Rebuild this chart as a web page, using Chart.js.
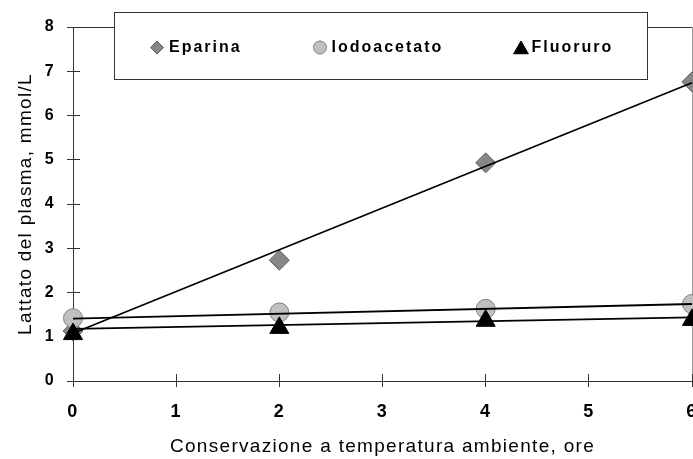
<!DOCTYPE html>
<html>
<head>
<meta charset="utf-8">
<script src="https://cdn.jsdelivr.net/npm/chart.js"></script>
<style>
    html, body { margin: 0; padding: 0; background: #fff; }
</style>
</head>
<body>
<canvas class="lattato-chart" width="693" height="459"></canvas>
<script>
const ore = [0, 2, 4, 6];
const eparina = [1.13, 2.73, 4.93, 6.76];
const iodoacetato = [1.42, 1.55, 1.63, 1.74];
const fluoruro = [1.06, 1.20, 1.36, 1.38];

// rette di tendenza (estremi a 0 e 6 ore)
const oreTrend = [0, 6];
const trendEparina = [1.08, 6.74];
const trendIodoacetato = [1.41, 1.74];
const trendFluoruro = [1.18, 1.44];

const xTicks = [0, 1, 2, 3, 4, 5, 6];
const yTicks = [0, 1, 2, 3, 4, 5, 6, 7, 8];
const serie = ['Eparina', 'Iodoacetato', 'Fluoruro'];
const titoloX = 'Conservazione a temperatura ambiente, ore';
const titoloY = 'Lattato del plasma, mmol/L';

function punti(xs, ys) {
    return xs.map((x, i) => ({ x: x, y: ys[i] }));
}

function allinea(p) {
    return Math.round(p - 0.5) + 0.5;
}

function disegnaMarker(ctx, stile, r, x, y) {
    if (Chart.helpers && Chart.helpers.drawPoint) {
        Chart.helpers.drawPoint(ctx, { pointStyle: stile, radius: r, borderWidth: 1, rotation: 0 }, x, y);
        return;
    }
    ctx.beginPath();
    if (stile === 'circle') {
        ctx.arc(x, y, r, 0, Math.PI * 2);
    } else if (stile === 'rectRot') {
        ctx.moveTo(x - r, y); ctx.lineTo(x, y - r); ctx.lineTo(x + r, y); ctx.lineTo(x, y + r);
    } else {
        ctx.moveTo(x, y - r); ctx.lineTo(x + r * 0.866, y + r / 2); ctx.lineTo(x - r * 0.866, y + r / 2);
    }
    ctx.closePath();
    ctx.fill();
    ctx.stroke();
}

const spaziatura = {
    id: 'spaziatura',
    beforeDraw(chart) {
        chart.ctx.letterSpacing = '1.3px';
    }
};

// bordo superiore/destro e parte interna delle tacche
const bordoETacche = {
    id: 'bordoETacche',
    beforeDatasetsDraw(chart) {
        const ctx = chart.ctx;
        const { left, right, top, bottom } = chart.chartArea;
        const sx = chart.scales.x;
        const sy = chart.scales.y;
        ctx.save();
        ctx.lineWidth = 1;
        ctx.strokeStyle = '#9a9a9a';
        ctx.beginPath();
        ctx.moveTo(allinea(right), top);
        ctx.lineTo(allinea(right), bottom);
        ctx.stroke();
        ctx.strokeStyle = '#333';
        ctx.beginPath();
        ctx.moveTo(left, allinea(top));
        ctx.lineTo(right, allinea(top));
        sx.ticks.forEach(t => {
            const px = allinea(sx.getPixelForValue(t.value));
            ctx.moveTo(px, bottom);
            ctx.lineTo(px, bottom - 7);
        });
        sy.ticks.forEach(t => {
            const py = allinea(sy.getPixelForValue(t.value));
            ctx.moveTo(left, py);
            ctx.lineTo(left + 7, py);
        });
        ctx.stroke();
        ctx.restore();
    }
};

const legenda = {
    id: 'legenda',
    afterDraw(chart) {
        const ctx = chart.ctx;
        const markerX = [157, 320, 521];
        const testoX = [169, 331.5, 531.5];
        const raggi = [6.5, 6.5, 8.5];
        const y = 47.5;
        ctx.save();
        ctx.fillStyle = '#fff';
        ctx.fillRect(114, 12, 534, 68);
        ctx.strokeStyle = '#333';
        ctx.lineWidth = 1;
        ctx.strokeRect(114.5, 12.5, 533, 67);
        const marcatori = chart.data.datasets.filter(d => !d.showLine);
        marcatori.forEach((ds, i) => {
            ctx.fillStyle = ds.backgroundColor;
            ctx.strokeStyle = ds.borderColor;
            ctx.lineWidth = 1;
            const dy = ds.pointStyle === 'triangle' ? 2 : 0;
            disegnaMarker(ctx, ds.pointStyle, raggi[i], markerX[i], y + dy);
            ctx.fillStyle = '#000';
            ctx.font = 'bold 16px "Liberation Sans", Arial, sans-serif';
            ctx.letterSpacing = '2px';
            ctx.textBaseline = 'middle';
            ctx.textAlign = 'left';
            ctx.fillText(ds.label, testoX[i], y);
        });
        ctx.restore();
    }
};

Chart.defaults.font.family = '"Liberation Sans", Arial, sans-serif';
Chart.defaults.color = '#000';

const ctxLattato = document.querySelector('.lattato-chart').getContext('2d');
const graficoLattato = new Chart(ctxLattato, {
    type: 'scatter',
    data: {
        datasets: [{
            label: 'trend ' + serie[0],
            data: punti(oreTrend, trendEparina),
            showLine: true,
            borderColor: '#000',
            borderWidth: 1.8,
            pointRadius: 0,
            clip: false,
            order: 0
        }, {
            label: 'trend ' + serie[1],
            data: punti(oreTrend, trendIodoacetato),
            showLine: true,
            borderColor: '#000',
            borderWidth: 1.8,
            pointRadius: 0,
            clip: false,
            order: 0
        }, {
            label: 'trend ' + serie[2],
            data: punti(oreTrend, trendFluoruro),
            showLine: true,
            borderColor: '#000',
            borderWidth: 1.8,
            pointRadius: 0,
            clip: false,
            order: 0
        }, {
            label: serie[0],
            data: punti(ore, eparina),
            showLine: false,
            pointStyle: 'rectRot',
            pointRadius: 10,
            backgroundColor: '#878787',
            borderColor: '#5e5e5e',
            borderWidth: 1,
            clip: false,
            order: 3
        }, {
            label: serie[1],
            data: punti(ore, iodoacetato),
            showLine: false,
            pointStyle: 'circle',
            pointRadius: 9.5,
            backgroundColor: '#c0c0c0',
            borderColor: '#808080',
            borderWidth: 1,
            clip: false,
            order: 2
        }, {
            label: serie[2],
            data: punti(ore, fluoruro),
            showLine: false,
            pointStyle: 'triangle',
            pointRadius: 11,
            backgroundColor: '#000',
            borderColor: '#000',
            borderWidth: 1,
            clip: false,
            order: 1
        }]
    },
    options: {
        responsive: false,
        animation: false,
        devicePixelRatio: 1,
        layout: { autoPadding: false, padding: { top: 27, right: 1, left: 0, bottom: 0 } },
        plugins: {
            legend: { display: false },
            tooltip: { enabled: false }
        },
        scales: {
            x: {
                type: 'linear',
                position: 'bottom',
                min: 0,
                max: 6,
                grid: { drawOnChartArea: false, drawTicks: true, tickLength: 6, color: '#333' },
                border: { display: true, color: '#333', width: 1 },
                ticks: { font: { size: 18, weight: 'bold' }, padding: 14, maxRotation: 0, autoSkip: false },
                title: { display: true, text: titoloX, font: { size: 19 }, padding: { top: 0, bottom: 1 } },
                afterBuildTicks: scale => { scale.ticks = xTicks.map(v => ({ value: v })); },
                afterFit: scale => { scale.height = 78; scale.paddingLeft = 0; scale.paddingRight = 0; }
            },
            y: {
                type: 'linear',
                position: 'left',
                min: 0,
                max: 8,
                grid: { drawOnChartArea: false, drawTicks: true, tickLength: 6, color: '#333' },
                border: { display: true, color: '#333', width: 1 },
                ticks: { font: { size: 16, weight: 'bold' }, padding: 12 },
                title: { display: true, text: titoloY, font: { size: 19 }, padding: { top: 14, bottom: 0 } },
                afterBuildTicks: scale => { scale.ticks = yTicks.map(v => ({ value: v })); },
                afterFit: scale => { scale.width = 73; scale.paddingTop = 0; scale.paddingBottom = 0; }
            }
        }
    },
    plugins: [spaziatura, bordoETacche, legenda]
});
</script>
</body>
</html>
